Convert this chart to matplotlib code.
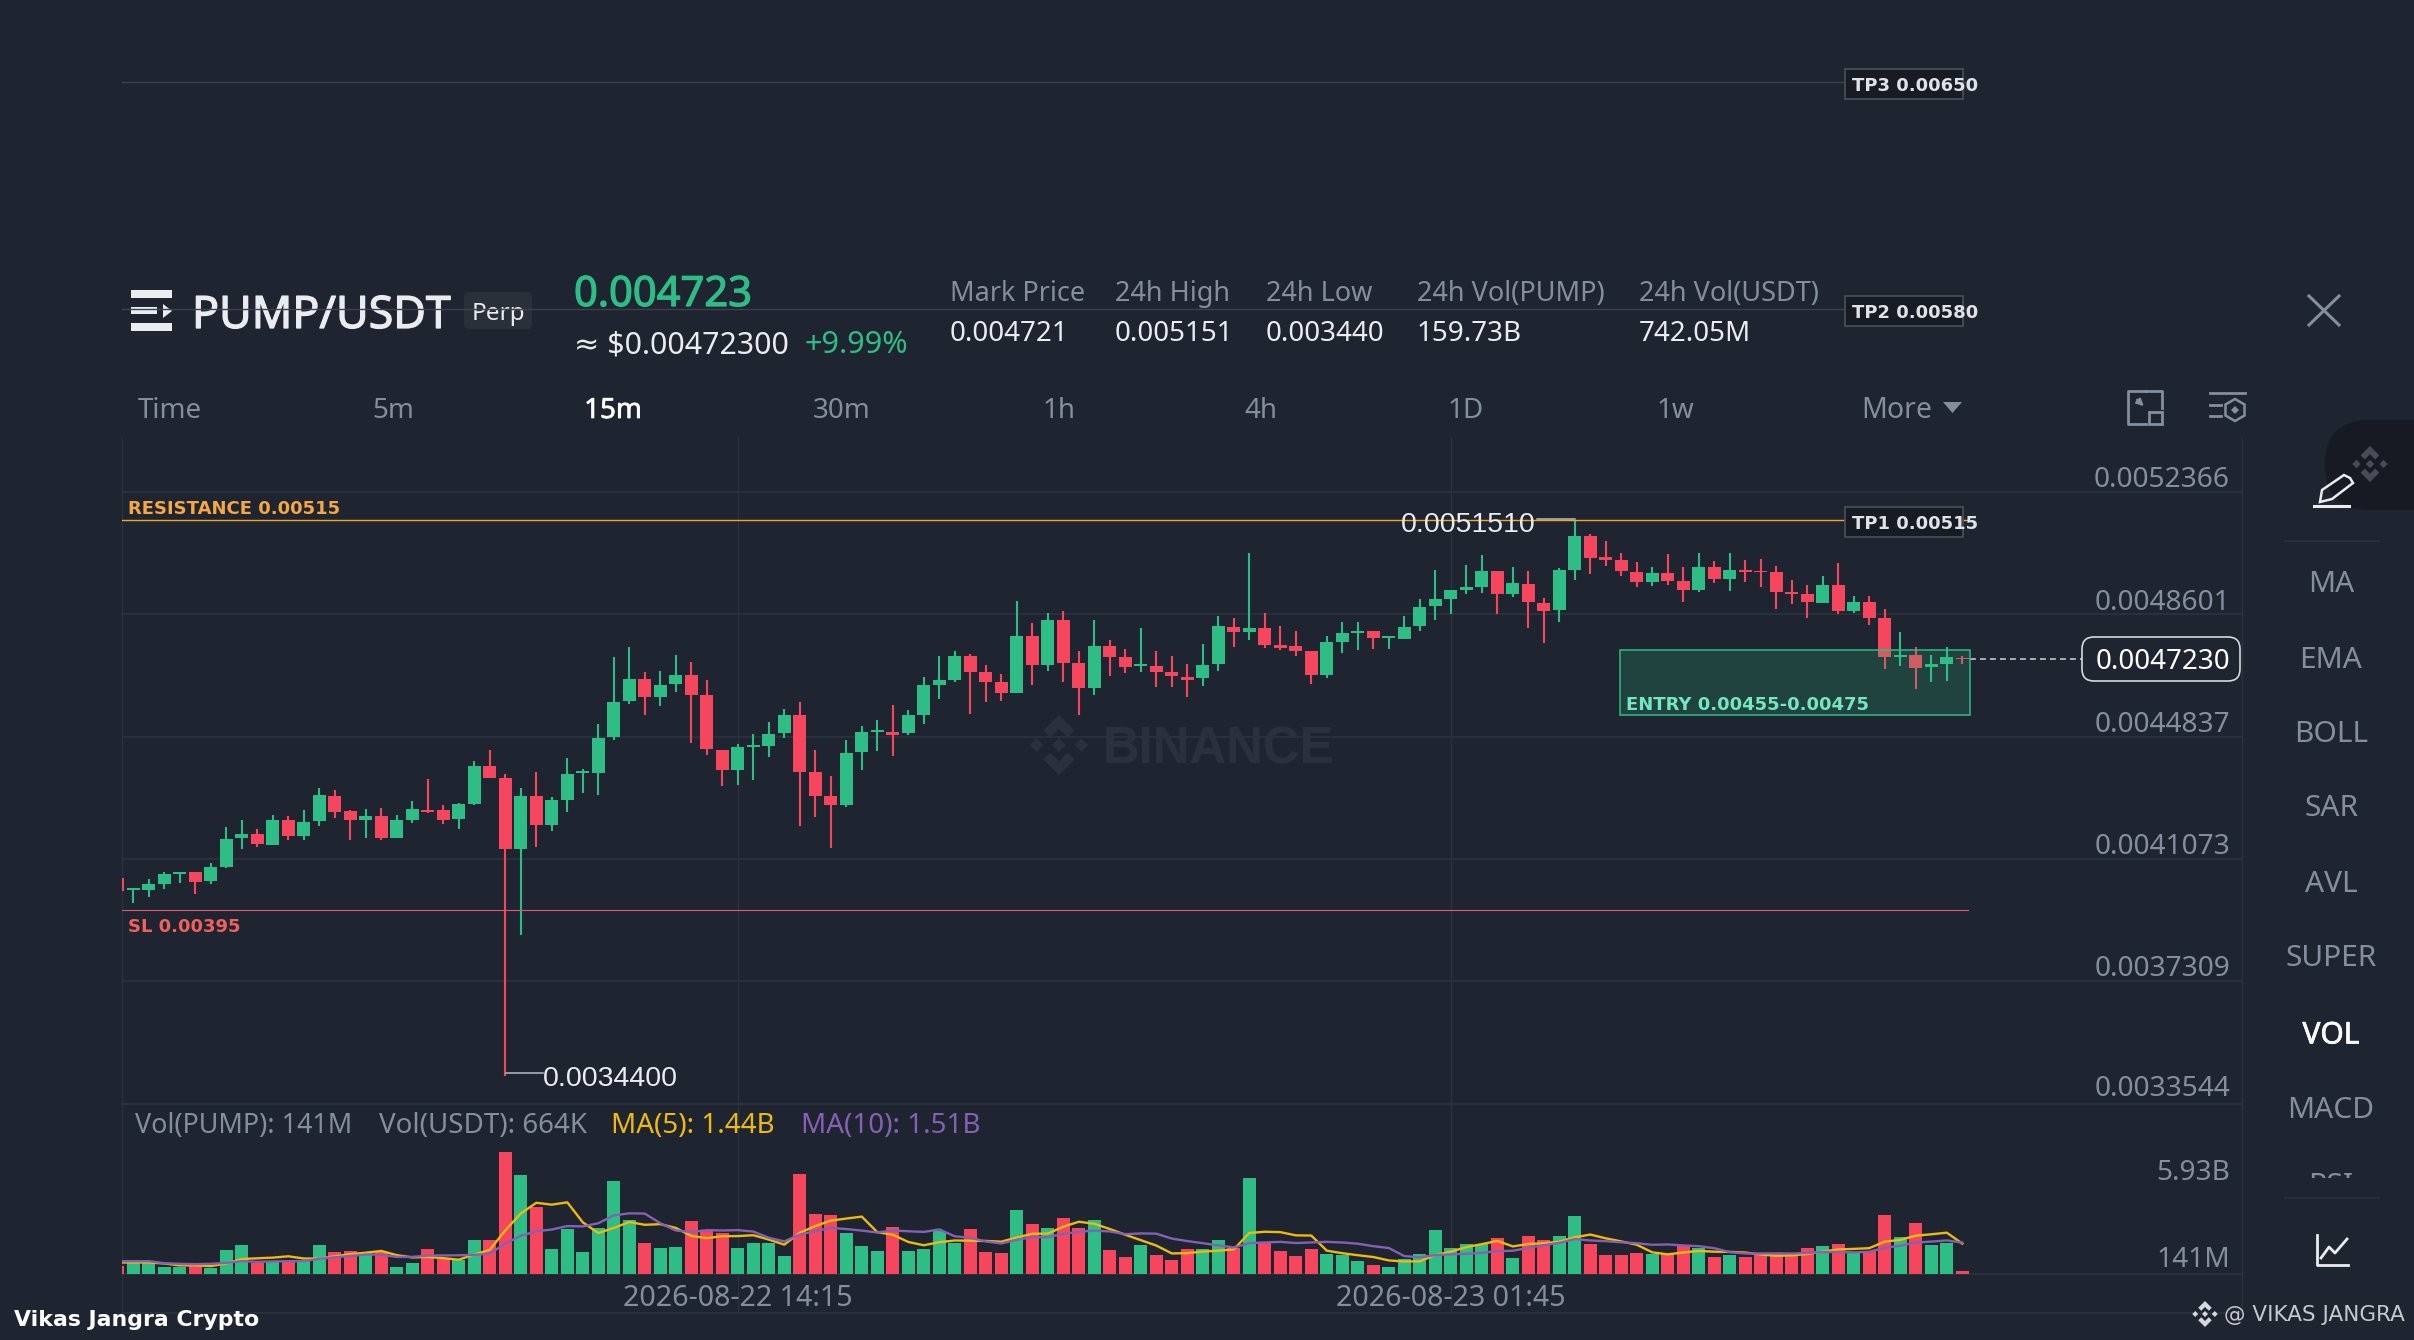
import numpy as np
import matplotlib
matplotlib.use("Agg")
import matplotlib.pyplot as plt
import matplotlib.patheffects as pe
from matplotlib.patches import Rectangle, FancyBboxPatch, Polygon, RegularPolygon

# prices in 1e-6 USDT, volumes in millions
opens = [4048,4012,4013,4030,4060,4066,4038,4083,4171,4183,4151,4226,4178,4224,4301,4254,4228,4238,4173,4227,
         4258,4258,4230,4277,4394,4356,4138,4301,4212,4288,4372,4371,4483,4592,4662,4607,4645,4673,4613,4443,
         4380,4451,4454,4495,4550,4375,4302,4274,4435,4498,4497,4494,4551,4643,4657,4733,4684,4652,4619,4794,
         4703,4843,4710,4633,4763,4729,4700,4701,4683,4668,4665,4706,4822,4806,4818,4765,4762,4747,4672,4775,
         4802,4809,4786,4785,4823,4886,4907,4934,4945,4995,4922,4955,4896,4872,4998,5101,5036,5026,4992,4960,
         4987,4963,4935,5007,4970,4998,4994,4989,4929,4923,4896,4949,4871,4899,4848,4730,4735,4697,4708,4727]
closes = [4010,4018,4029,4060,4067,4036,4081,4170,4183,4152,4226,4177,4221,4303,4253,4228,4238,4172,4226,4260,
          4252,4228,4276,4394,4357,4139,4301,4211,4288,4370,4379,4481,4590,4662,4606,4642,4673,4613,4445,4380,
          4451,4457,4493,4551,4376,4302,4274,4433,4498,4505,4490,4551,4642,4657,4733,4684,4653,4618,4793,4704,
          4843,4710,4633,4763,4729,4699,4706,4684,4670,4659,4704,4824,4806,4818,4766,4757,4747,4672,4775,4802,
          4809,4786,4792,4822,4884,4907,4934,4943,4994,4923,4956,4898,4871,4998,5101,5035,5028,4993,4959,4986,
          4964,4936,5005,4968,4998,4992,4989,4930,4923,4898,4949,4871,4898,4848,4730,4736,4696,4707,4728,4723]
highs = [4048,4019,4046,4067,4067,4067,4096,4206,4228,4199,4244,4239,4258,4326,4320,4258,4260,4265,4243,4286,
         4353,4274,4279,4408,4443,4370,4326,4374,4297,4419,4385,4522,4729,4761,4682,4685,4735,4713,4658,4444,
         4460,4492,4528,4568,4589,4443,4363,4473,4517,4536,4581,4566,4666,4732,4746,4739,4704,4675,4900,4835,
         4865,4869,4746,4844,4781,4753,4818,4746,4731,4707,4770,4855,4848,5048,4863,4825,4809,4748,4792,4836,
         4838,4810,4793,4855,4907,4998,4935,5012,5042,4995,5007,4994,4912,5003,5151,5106,5087,5048,5020,5005,
         5045,5007,5048,5025,5048,5027,5031,5008,4966,4951,4978,5019,4918,4916,4876,4805,4759,4735,4759,4732]
lows = [4010,3971,3991,4014,4034,3998,4030,4080,4137,4144,4150,4167,4167,4210,4234,4165,4171,4167,4171,4217,
        4250,4214,4200,4273,4355,3440,3873,4145,4192,4253,4310,4305,4474,4585,4550,4578,4620,4463,4426,4333,
        4336,4350,4421,4478,4210,4237,4142,4268,4381,4440,4424,4490,4522,4601,4651,4553,4589,4593,4618,4644,
        4685,4652,4549,4612,4670,4679,4683,4637,4637,4606,4641,4686,4761,4782,4758,4750,4733,4645,4665,4742,
        4751,4755,4752,4784,4808,4844,4861,4924,4925,4861,4914,4819,4771,4836,4966,4984,5010,4979,4945,4948,
        4949,4899,4930,4957,4931,4961,4943,4878,4892,4848,4896,4860,4865,4828,4691,4700,4631,4651,4656,4708]
volumes = [374,488,488,309,309,406,276,1138,1398,488,569,601,601,1365,1056,1073,975,1024,341,504,
           1186,683,650,1625,1609,5930,4810,3250,1170,2178,1056,2210,4485,2616,1495,1219,1284,2535,2080,1966,
           1251,1495,1479,845,4859,2876,2828,1983,1316,1073,2243,1073,1170,2064,1495,2178,1024,991,3088,2405,
           2210,2698,2210,2584,1138,813,1381,894,666,1203,1186,1609,1219,4648,1511,1089,829,1170,959,894,
           601,390,341,699,926,2113,1251,1430,1430,1723,764,1836,1625,1804,2795,1430,910,878,991,943,
           943,1365,1251,813,894,780,894,926,926,1235,1349,1430,1056,1105,2828,1788,2438,1398,1495,141]
ma5 = [536,536,536,488,393,400,358,488,705,741,774,839,731,725,839,939,1014,1099,894,783,
       806,748,673,930,1151,2100,2925,3445,3354,3468,2493,1973,2220,2509,2373,2405,2220,1830,1723,1817,
       1823,1866,1654,1407,1986,2311,2577,2678,2772,2015,1888,1537,1375,1524,1609,1596,1586,1550,1755,1937,
       1944,2278,2522,2421,2168,1888,1625,1362,978,991,1066,1112,1177,1973,2035,2015,1859,1849,1112,988,
       891,803,637,585,592,894,1066,1284,1430,1589,1320,1437,1476,1550,1765,1898,1713,1563,1401,1030,
       933,1024,1099,1063,1053,1021,926,861,884,952,1066,1173,1199,1235,1554,1641,1843,1911,1989,1456]
ma10 = [601,601,601,504,471,455,471,520,601,567,587,598,609,715,790,856,926,915,809,811,
        873,881,886,912,967,1453,1836,2059,2142,2309,2296,2449,2832,2932,2920,2449,2096,2025,2116,2095,
        2114,2043,1742,1565,1901,2067,2221,2166,2090,2000,2100,2057,2026,2148,1812,1742,1562,1463,1640,1773,
        1770,1932,2036,2088,2052,1916,1952,1942,1700,1580,1477,1368,1269,1476,1513,1541,1485,1513,1542,1511,
        1453,1331,1243,848,790,892,934,960,1008,1090,1107,1251,1380,1490,1677,1609,1575,1519,1476,1398,
        1415,1368,1331,1232,1042,977,975,980,973,1003,1043,1050,1030,1060,1253,1354,1508,1555,1612,1505]

price_ticks = [0.0052366, 0.0048601, 0.0044837, 0.0041073, 0.0037309, 0.0033544]
time_ticks = [40, 86]
time_labels = ["2026-08-22 14:15", "2026-08-23 01:45"]
last_price = 0.004723
tp_levels = [("TP3 0.00650", 0.00650), ("TP2 0.00580", 0.00580), ("TP1 0.00515", 0.00515)]
resistance = 0.00515
stop_loss = 0.00395
entry_low, entry_high = 0.00455, 0.00475
chart_high, chart_low = 0.005151, 0.00344

tabs = ["Time", "5m", "15m", "30m", "1h", "4h", "1D", "1w"]
tab_x = [170, 393, 613, 842, 1059, 1261, 1466, 1675]
stat_names = ["Mark Price", "24h High", "24h Low", "24h Vol(PUMP)", "24h Vol(USDT)"]
stat_values = ["0.004721", "0.005151", "0.003440", "159.73B", "742.05M"]
stat_x = [950, 1115, 1266, 1417, 1639]
side_items = ["MA", "EMA", "BOLL", "SAR", "AVL", "SUPER", "VOL", "MACD"]
side_y = [584, 660, 735, 809, 885, 959, 1036, 1110]

BG = "#1e2530"
GRID = "#2c323d"
GREEN = "#2ebd85"
RED = "#f6465d"
GREY = "#848e9c"
WHITE = "#eaecef"
YELLOW = "#f0b90b"
PURPLE = "#8560b5"
W, H = 2414, 1340
UI = ["Noto Sans", "DejaVu Sans"]


def heavy(color, w=0.7):
    return [pe.withStroke(linewidth=w, foreground=color)]


opens = np.array(opens) * 1e-6
closes = np.array(closes) * 1e-6
highs = np.array(highs) * 1e-6
lows = np.array(lows) * 1e-6
x = np.arange(len(opens))
colors = [GREEN if c >= o else RED for o, c in zip(opens, closes)]

fig = plt.figure(figsize=(W / 100, H / 100), dpi=100, facecolor=BG)


def axes_px(left, top, right, bottom, z):
    a = fig.add_axes([left / W, 1 - bottom / H, (right - left) / W, (bottom - top) / H], zorder=z)
    a.patch.set_alpha(0)
    return a


under = axes_px(0, 0, W, H, 0)
over = axes_px(0, 0, W, H, 5)
for a in (under, over):
    a.set_xlim(0, W)
    a.set_ylim(H, 0)
    a.axis("off")

# x scale: candle 0 centred at px 117.8, 15.5 px per candle
x0 = (121.5 - 117.8) / 15.5
x1 = (2242 - 117.8) / 15.5

ax = axes_px(121.5, 438, 2242, 1103.5, 2)
ax.set_xlim(x0, x1)
ax.set_ylim(0.0033544, 0.005403)
ax.axis("off")

vax = axes_px(121.5, 1103.5, 2242, 1273.5, 2)
vax.set_xlim(x0, x1)
vax.set_ylim(0, 5930 * 170 / 121.7)
vax.axis("off")

# grid
for p in price_ticks[:-1]:
    ax.axhline(p, color=GRID, lw=1.3, zorder=1)
for t in time_ticks:
    ax.axvline(t, color=GRID, lw=1, zorder=1)
    vax.axvline(t, color=GRID, lw=1, zorder=1)
for yy in (1103.5, 1273.5, 1313):
    under.plot([121.5, 2242], [yy, yy], color=GRID, lw=1.3)
under.plot([121.5, 121.5], [438, 1313], color=GRID, lw=1)
under.plot([2242, 2242], [438, 1313], color=GRID, lw=1)
under.plot([738, 738], [1273, 1313], color=GRID, lw=1)
under.plot([1451, 1451], [1273, 1313], color=GRID, lw=1)


def logo(a, cx, cy, r, color, z=1):
    for dx, dy in [(0, 0), (-0.75, 0), (0.75, 0)]:
        a.add_patch(RegularPolygon((cx + dx * r, cy + dy * r), 4, radius=0.23 * r, color=color, lw=0, zorder=z))
    for s in (-1, 1):
        pts = [(0, -1), (0.52, -0.48), (0.29, -0.25), (0, -0.54), (-0.29, -0.25), (-0.52, -0.48)]
        a.add_patch(Polygon([(cx + px * r, cy + s * py * r) for px, py in pts], color=color, lw=0, zorder=z))


# watermark
logo(under, 1059, 745, 30, "#2b313c")
under.text(1103, 750, "BINANCE", family="Liberation Sans", weight="bold", fontsize=36.6, color="#2b313c",
           va="center", ha="left")

# candles
ax.vlines(x, lows, highs, colors=colors, lw=1.5, zorder=3)
ax.bar(x, np.maximum(np.abs(closes - opens), 1.5e-6), bottom=np.minimum(opens, closes), width=0.84,
       color=colors, zorder=4, linewidth=0)

# volume
vax.bar(x, volumes, width=0.84, color=colors, linewidth=0, zorder=3)
vax.plot(x, ma5, color=YELLOW, lw=1.7, zorder=4)
vax.plot(x, ma10, color=PURPLE, lw=1.7, zorder=5)

# levels
x_end = (1968 - 117.8) / 15.5
for label, level in tp_levels[:2]:
    ax.plot([x0, x_end], [level, level], color="#3c424d", lw=1, clip_on=False, zorder=6)
ax.plot([x0, x_end], [resistance, resistance], color="#f5a623", lw=1, zorder=6)
ax.plot([x0, x_end], [stop_loss, stop_loss], color="#e5566a", lw=0.8, zorder=6)
ax.add_patch(Rectangle((96.9, entry_low), 22.6, entry_high - entry_low, facecolor=GREEN, alpha=0.2, lw=0, zorder=7))
ax.add_patch(Rectangle((96.9, entry_low), 22.6, entry_high - entry_low, fill=False, edgecolor=GREEN, lw=1.1, zorder=7))
ax.plot([119.5, 1 + 133.7], [last_price, last_price], color="#c5c8cc", lw=1.2, ls=(0, (3.5, 2.5)), zorder=6)

# level labels
for (label, level), y_px in zip(tp_levels, (84, 311, 522)):
    over.add_patch(Rectangle((1845, y_px - 15), 118, 30, facecolor="#171c24", edgecolor="#4a505c", lw=1.2, zorder=2))
    over.text(1852, y_px + 2, label, family="DejaVu Sans", weight="bold", fontsize=13, color="#dfe2e6",
              va="center", ha="left", zorder=3)
over.text(128, 509, "RESISTANCE 0.00515", family="DejaVu Sans", weight="bold", fontsize=13, color="#f5a742",
          va="center")
over.text(128, 927, "SL 0.00395", family="DejaVu Sans", weight="bold", fontsize=13, color="#f0605f", va="center")
over.text(1626, 704.5, "ENTRY 0.00455-0.00475", family="DejaVu Sans", weight="bold", fontsize=13, color="#74e6c0",
          va="center")

# chart high / low markers
over.text(1401, 525, f"{chart_high:.7f}", family="Liberation Sans", fontsize=20.5, color=WHITE, va="center")
over.plot([1537, 1575], [519, 519], color="#b7bdc6", lw=1.1)
over.text(543, 1079, f"{chart_low:.7f}", family="Liberation Sans", fontsize=20.5, color=WHITE, va="center")
over.plot([505.5, 543], [1073, 1073], color="#b7bdc6", lw=1.1)

# axis labels
for p, y_px in zip(price_ticks, (480, 603, 725, 847, 969, 1089)):
    over.text(2230, y_px, f"{p:.7f}", family=UI, fontsize=20.2, color=GREY, ha="right", va="center")
over.text(2230, 1173, "5.93B", family=UI, fontsize=20.2, color=GREY, ha="right", va="center")
over.text(2230, 1260, "141M", family=UI, fontsize=20.2, color=GREY, ha="right", va="center")
for t, label in zip(time_ticks, time_labels):
    over.text(117.8 + 15.5 * t, 1298, label, family=UI, fontsize=20.6, color=GREY, ha="center", va="center")

over.add_patch(FancyBboxPatch((2082, 637), 158, 44, boxstyle="round,pad=0,rounding_size=12",
                              facecolor=BG, edgecolor="#d5d8dc", lw=1.2, zorder=2))
over.text(2163, 662, f"{last_price:.7f}", family=UI, fontsize=20, color="white", ha="center", va="center", zorder=3)

# volume legend
for lx, txt, col, fs in [(135, "Vol(PUMP): 141M", GREY, 19.4), (379, "Vol(USDT): 664K", GREY, 20),
                         (611, "MA(5): 1.44B", YELLOW, 20), (801, "MA(10): 1.51B", PURPLE, 20)]:
    over.text(lx, 1126, txt, family=UI, fontsize=fs, color=col, va="center")

# header
for by in (290, 323):
    under.add_patch(Rectangle((131, by), 41, 8, color=WHITE, lw=0))
under.add_patch(Rectangle((131, 307), 26, 7, color=WHITE, lw=0))
under.add_patch(Polygon([(163, 304), (172, 311), (163, 318)], color=WHITE, lw=0))
under.text(192, 316, "PUMP/USDT", family=UI, fontsize=32.2, color=WHITE, va="center", path_effects=heavy(WHITE, 0.9))
under.add_patch(FancyBboxPatch((464, 292), 68, 37, boxstyle="round,pad=0,rounding_size=5", facecolor="#2a303a",
                               edgecolor="none"))
under.text(498, 314, "Perp", family=UI, fontsize=17.5, color=WHITE, ha="center", va="center")
under.text(574, 295, "0.004723", family=UI, fontsize=30, color=GREEN, va="center", path_effects=heavy(GREEN, 0.9))
under.text(574, 345, "≈ $0.00472300", family=UI, fontsize=21.8, color=WHITE, va="center")
under.text(805, 345, "+9.99%", family=UI, fontsize=22, color=GREEN, va="center")
for sx, name, val in zip(stat_x, stat_names, stat_values):
    under.text(sx, 294, name, family=UI, fontsize=19.5, color=GREY, va="center")
    under.text(sx, 334, val, family=UI, fontsize=20, color=WHITE, va="center")

# interval tabs
for tx, tab in zip(tab_x, tabs):
    active = tab == "15m"
    under.text(tx, 411, tab, family=UI, fontsize=20, color="white" if active else GREY, ha="center", va="center",
               path_effects=heavy("white", 0.5) if active else None)
under.text(1897, 411, "More", family=UI, fontsize=20.5, color=GREY, ha="center", va="center")
under.add_patch(Polygon([(1943, 402), (1962, 402), (1952.5, 413)], color=GREY, lw=0))

# toolbar icons
under.plot([2309, 2339], [296, 325], color=GREY, lw=2.2)
under.plot([2309, 2339], [325, 296], color=GREY, lw=2.2)
under.plot([2146, 2128, 2128, 2146], [391, 391, 424, 424], color=GREY, lw=2)
under.plot([2146, 2162, 2162], [391, 391, 408], color=GREY, lw=2)
under.add_patch(Rectangle((2149, 412), 13, 12, fill=False, edgecolor=GREY, lw=2))
under.annotate("", xy=(2146, 408), xytext=(2135, 398), arrowprops=dict(arrowstyle="-|>", color=GREY, lw=1.6))
under.plot([2210, 2245], [393, 393], color=GREY, lw=2)
under.plot([2210, 2221], [405, 405], color=GREY, lw=2)
under.plot([2210, 2221], [416, 416], color=GREY, lw=2)
under.add_patch(RegularPolygon((2235, 410), 6, radius=11, fill=False, edgecolor=GREY, lw=1.8))
under.add_patch(RegularPolygon((2235, 410), 4, radius=4, color=GREY, lw=0))

# sidebar
under.add_patch(FancyBboxPatch((2325, 420), 140, 90, boxstyle="round,pad=0,rounding_size=44", facecolor="#161a22",
                               edgecolor="none"))
logo(under, 2370, 464, 18, "#474d57")
under.add_patch(Polygon([(2322, 490), (2344, 475), (2350, 478), (2353, 483), (2332, 499), (2320, 502)],
                        fill=False, edgecolor=WHITE, lw=1.8))
under.plot([2314, 2349], [506, 506], color=WHITE, lw=2.2)
under.plot([2285, 2379], [541, 541], color=GRID, lw=1.2)
under.plot([2285, 2379], [1198, 1198], color=GRID, lw=1.2)
for sy, item in zip(side_y, side_items):
    active = item == "VOL"
    under.text(2331, sy, item, family=UI, fontsize=21.5, color="white" if active else GREY, ha="center", va="center",
               path_effects=heavy("white", 0.5) if active else None)
rsi = under.text(2331, 1186, "RSI", family=UI, fontsize=21.5, color=GREY, ha="center", va="center", clip_on=True)
rsi.set_clip_path(Rectangle((2280, 1160), 110, 18, transform=under.transData))
under.plot([2317, 2317, 2348], [1235, 1265, 1265], color=WHITE, lw=2)
under.plot([2321, 2329, 2335, 2347], [1258, 1247, 1253, 1239], color=WHITE, lw=2)

# footer
over.text(14, 1320, "Vikas Jangra Crypto", family="DejaVu Sans", weight="bold", fontsize=15.8, color="white", va="center")
logo(over, 2205, 1314, 13, "#d5d8dc")
over.text(2405, 1315, "@ VIKAS JANGRA", family="DejaVu Sans", fontsize=15.5, color="#c5c8cc", ha="right", va="center")

fig.savefig("out.png", dpi=100, facecolor=BG)
